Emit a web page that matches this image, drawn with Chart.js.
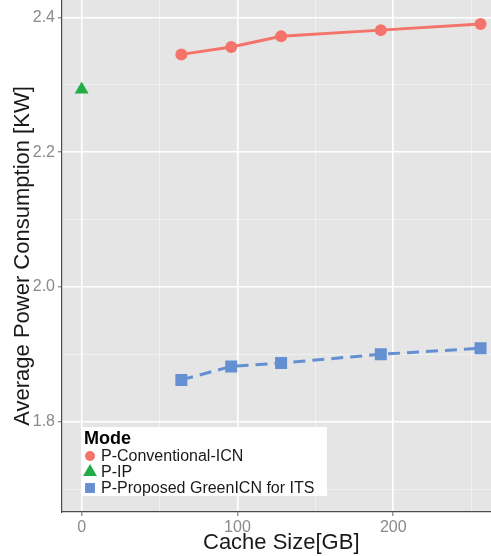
<!DOCTYPE html>
<html>
<head>
<meta charset="utf-8">
<script src="https://cdn.jsdelivr.net/npm/chart.js@4/dist/chart.umd.min.js"></script>
<style>
  html, body { margin: 0; padding: 0; background: #fff; overflow: hidden; }
</style>
</head>
<body>
<canvas id="myChart" width="510" height="556"></canvas>
<script>
// data
const cacheSizes = [64, 96, 128, 192, 256];
const conventionalICN = [2.345, 2.356, 2.372, 2.381, 2.390];
const ipSizes = [0];
const ipPower = [2.293];
const proposedGreenICN = [1.862, 1.882, 1.887, 1.900, 1.909];

const seriesLabels = ['P-Conventional-ICN', 'P-IP', 'P-Proposed GreenICN for ITS'];
const legendTitle = 'Mode';

const xMajorTicks = [0, 100, 200];
const xMinorTicks = [50, 150, 250];
const yMajorTicks = [1.8, 2.0, 2.2, 2.4];
const yMinorTicks = [1.7, 1.9, 2.1, 2.3];

const FONT = "'Liberation Sans', Arial, Helvetica, sans-serif";
const colors = ['#F4736A', '#22AD45', '#6490D2'];

function toPoints(xs, ys) {
  return xs.map((x, i) => ({ x: x, y: ys[i] }));
}

function isMajor(list, v) {
  return list.some(m => Math.abs(m - v) < 1e-6);
}

// grey panel behind the grid
const panelBackground = {
  id: 'panelBackground',
  beforeDraw(chart) {
    const { ctx, chartArea } = chart;
    ctx.save();
    ctx.fillStyle = '#E5E5E5';
    ctx.fillRect(chartArea.left, chartArea.top, chartArea.right - chartArea.left, chartArea.bottom - chartArea.top);
    ctx.restore();
  }
};

// ggplot style legend inside the panel
const insideLegend = {
  id: 'insideLegend',
  afterDraw(chart) {
    const { ctx } = chart;
    const box = { x: 82, y: 427, w: 245, h: 69 };
    ctx.save();
    ctx.fillStyle = '#ffffff';
    ctx.fillRect(box.x, box.y, box.w, box.h);

    ctx.fillStyle = '#000';
    ctx.font = 'bold 18px ' + FONT;
    ctx.textBaseline = 'middle';
    ctx.textAlign = 'left';
    ctx.fillText(legendTitle, 84, 439);

    ctx.font = '16px ' + FONT;
    chart.data.datasets.forEach((ds, i) => {
      const cy = 456 + i * 16;
      ctx.fillStyle = ds.pointBackgroundColor;
      Chart.helpers.drawPoint(ctx, {
        pointStyle: ds.pointStyle,
        radius: ds.legendRadius,
        borderWidth: 0,
        rotation: 0
      }, 90, cy);
      ctx.fillStyle = '#1a1a1a';
      ctx.fillText(ds.label, 101, cy + 1);
    });
    ctx.restore();
  }
};

const ctx = document.getElementById('myChart').getContext('2d');
const myChart = new Chart(ctx, {
  type: 'line',
  data: {
    datasets: [
      {
        label: seriesLabels[0],
        data: toPoints(cacheSizes, conventionalICN),
        borderColor: colors[0],
        backgroundColor: colors[0],
        pointBackgroundColor: colors[0],
        borderWidth: 3,
        pointStyle: 'circle',
        pointRadius: 6,
        legendRadius: 5,
        pointBorderWidth: 0
      },
      {
        label: seriesLabels[1],
        data: toPoints(ipSizes, ipPower),
        borderColor: colors[1],
        backgroundColor: colors[1],
        pointBackgroundColor: colors[1],
        showLine: false,
        pointStyle: 'triangle',
        pointRadius: 8,
        legendRadius: 8,
        pointBorderWidth: 0
      },
      {
        label: seriesLabels[2],
        data: toPoints(cacheSizes, proposedGreenICN),
        borderColor: colors[2],
        backgroundColor: colors[2],
        pointBackgroundColor: colors[2],
        borderWidth: 3,
        borderDash: [12, 7],
        pointStyle: 'rect',
        pointRadius: 8.5,
        legendRadius: 7,
        pointBorderWidth: 0
      }
    ]
  },
  options: {
    responsive: false,
    animation: false,
    devicePixelRatio: 1,
    layout: { autoPadding: false, padding: { left: 0, top: 0, right: 9.5, bottom: 0 } },
    plugins: {
      legend: { display: false },
      tooltip: { enabled: false }
    },
    scales: {
      x: {
        type: 'linear',
        min: -12.6,
        max: 268.8,
        afterBuildTicks(scale) {
          scale.ticks = xMajorTicks.concat(xMinorTicks).sort((a, b) => a - b).map(v => ({ value: v }));
        },
        afterFit(scale) {
          scale.height = 44;
          scale.paddingLeft = 0;
          scale.paddingRight = 0;
        },
        ticks: {
          autoSkip: false,
          maxRotation: 0,
          padding: 2,
          color: '#8a8a8a',
          font: { family: FONT, size: 16 },
          callback: v => isMajor(xMajorTicks, v) ? String(v) : ''
        },
        grid: {
          color: c => isMajor(xMajorTicks, c.tick.value) ? '#ffffff' : 'rgba(255,255,255,0.55)',
          lineWidth: c => isMajor(xMajorTicks, c.tick.value) ? 1.6 : 0.8,
          tickColor: c => isMajor(xMajorTicks, c.tick.value) ? '#666666' : 'rgba(0,0,0,0)',
          tickLength: 4,
          tickWidth: 1
        },
        border: { display: true, color: '#4d4d4d', width: 1.2 },
        title: {
          display: true,
          text: 'Cache Size[GB]',
          color: '#1a1a1a',
          font: { family: FONT, size: 22 },
          padding: { top: 0, bottom: 0 }
        }
      },
      y: {
        type: 'linear',
        min: 1.666,
        max: 2.4257,
        afterBuildTicks(scale) {
          scale.ticks = yMinorTicks.concat(yMajorTicks).sort((a, b) => a - b).map(v => ({ value: v }));
        },
        afterFit(scale) {
          scale.width = 62;
          scale.paddingTop = 0;
          scale.paddingBottom = 0;
        },
        ticks: {
          autoSkip: false,
          padding: 3,
          color: '#8a8a8a',
          font: { family: FONT, size: 16 },
          callback: v => isMajor(yMajorTicks, v) ? v.toFixed(1) : ''
        },
        grid: {
          color: c => isMajor(yMajorTicks, c.tick.value) ? '#ffffff' : 'rgba(255,255,255,0.55)',
          lineWidth: c => isMajor(yMajorTicks, c.tick.value) ? 1.6 : 0.8,
          tickColor: c => isMajor(yMajorTicks, c.tick.value) ? '#666666' : 'rgba(0,0,0,0)',
          tickLength: 4,
          tickWidth: 1
        },
        border: { display: true, color: '#4d4d4d', width: 1.2 },
        title: {
          display: true,
          text: 'Average Power Consumption [KW]',
          color: '#1a1a1a',
          font: { family: FONT, size: 22 },
          padding: { top: 10, bottom: 0 }
        }
      }
    }
  },
  plugins: [panelBackground, insideLegend]
});
</script>
</body>
</html>
